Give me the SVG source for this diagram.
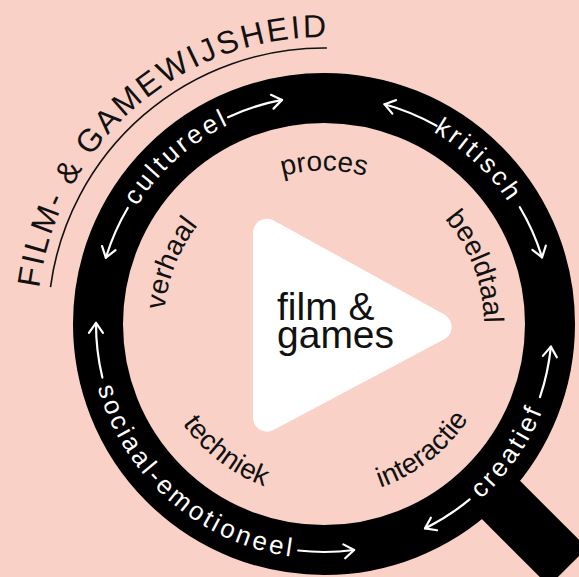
<svg xmlns="http://www.w3.org/2000/svg" width="579" height="577" viewBox="0 0 579 577">
<style>
.ring{font-family:"Liberation Sans",Arial,sans-serif;font-size:26px;fill:#fff;letter-spacing:3.2px}
.inner{font-family:"Liberation Sans",Arial,sans-serif;font-size:28px;fill:#111}
.title{font-family:"Liberation Sans",Arial,sans-serif;font-size:32px;fill:#111;letter-spacing:2.5px}
.center{font-family:"Liberation Sans",Arial,sans-serif;font-size:39px;fill:#111}
.arr{fill:none;stroke:#fff;stroke-width:2.2;stroke-linecap:round;marker-end:url(#ah)}
</style>
<defs>
<marker id="ah" markerWidth="16" markerHeight="18" refX="12" refY="8" orient="auto" markerUnits="userSpaceOnUse" overflow="visible">
<path d="M2,1 L12,8 L2,15" fill="none" stroke="#fff" stroke-width="2.2" stroke-linecap="round" stroke-linejoin="round"/>
</marker>
<path id="p-cult" d="M103.07,329.40 A221,221 0 0 1 357.05,105.48"/>
<path id="p-krit" d="M298.60,104.47 A221,221 0 0 1 544.61,337.11"/>
<path id="p-crea" d="M345.91,557.98 A235,235 0 0 0 550.62,261.79"/>
<path id="p-soc" d="M93.20,279.76 A235,235 0 0 0 401.09,546.00"/>
<path id="p-proc" d="M206.80,225.65 A152,152 0 0 1 441.20,225.65"/>
<path id="p-beeld" d="M376.88,172.99 A160,160 0 0 1 463.53,402.30"/>
<path id="p-verh" d="M183.26,400.10 A160,160 0 0 1 273.50,172.18"/>
<path id="p-tech" d="M151.16,331.55 A173,173 0 0 0 361.44,492.90"/>
<path id="p-inter" d="M287.44,493.09 A173,173 0 0 0 496.87,330.64"/>
<path id="p-title" d="M42.23,378.52 A287,287 0 0 1 417.67,52.72"/>
</defs>
<rect width="579" height="577" fill="#f9d1c7"/>

<g id="title">
<path d="M50.49,287.02 A276,276 0 0 1 326.89,48.01" fill="none" stroke="#111" stroke-width="1.6"/>
<text class="title"><textPath href="#p-title" startOffset="50%" text-anchor="middle">FILM- &amp; GAMEWIJSHEID</textPath></text>
</g>

<g id="magnifier">
<g transform="translate(324,323) rotate(45)"><rect x="215" y="-27" width="130" height="54" rx="10" fill="#000"/></g>
<circle cx="324" cy="324" r="226" fill="none" stroke="#000" stroke-width="50"/>
</g>

<g id="play">
<polygon points="267,232.7 267,417.7 437.6,326.8" fill="#fff" stroke="#fff" stroke-width="28" stroke-linejoin="round"/>
<text class="center" x="277" y="320">film &amp;</text>
<text class="center" x="277" y="348">games</text>
</g>

<g id="node-cultureel"><text class="ring"><textPath href="#p-cult" startOffset="50%" text-anchor="middle">cultureel</textPath></text></g>
<g id="node-kritisch"><text class="ring"><textPath href="#p-krit" startOffset="50%" text-anchor="middle">kritisch</textPath></text></g>
<g id="node-creatief"><text class="ring"><textPath href="#p-crea" startOffset="50%" text-anchor="middle">creatief</textPath></text></g>
<g id="node-sociaal"><text class="ring"><textPath href="#p-soc" startOffset="50%" text-anchor="middle">sociaal-emotioneel</textPath></text></g>

<g id="node-proces"><text class="inner"><textPath href="#p-proc" startOffset="50%" text-anchor="middle">proces</textPath></text></g>
<g id="node-beeldtaal"><text class="inner"><textPath href="#p-beeld" startOffset="50%" text-anchor="middle">beeldtaal</textPath></text></g>
<g id="node-interactie"><text class="inner"><textPath href="#p-inter" startOffset="50%" text-anchor="middle">interactie</textPath></text></g>
<g id="node-techniek"><text class="inner"><textPath href="#p-tech" startOffset="50%" text-anchor="middle">techniek</textPath></text></g>
<g id="node-verhaal"><text class="inner"><textPath href="#p-verh" startOffset="50%" text-anchor="middle">verhaal</textPath></text></g>

<g id="connectors">
<path class="arr" d="M127.75,207.94 A228,228 0 0 0 105.85,257.72"/>
<path class="arr" d="M228.00,117.19 A228,228 0 0 1 282.06,99.89"/>
<path class="arr" d="M436.62,125.76 A228,228 0 0 0 384.55,104.19"/>
<path class="arr" d="M519.84,207.25 A228,228 0 0 1 542.04,257.34"/>
<path class="arr" d="M539.96,397.11 A228,228 0 0 0 550.87,346.64"/>
<path class="arr" d="M469.64,499.42 A228,228 0 0 1 425.02,528.40"/>
<path class="arr" d="M102.39,377.61 A228,228 0 0 1 96.00,322.81"/>
<path class="arr" d="M298.19,550.53 A228,228 0 0 0 354.16,550.00"/>
</g>
</svg>
